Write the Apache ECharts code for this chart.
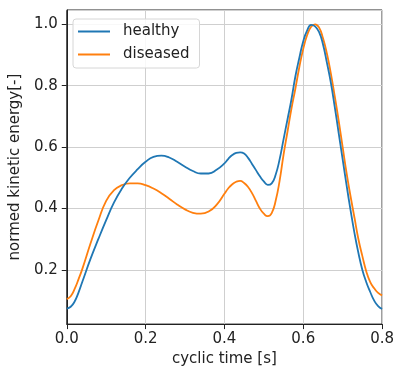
<!DOCTYPE html>
<html>
<head>
<meta charset="utf-8">
<script src="https://cdn.jsdelivr.net/npm/echarts@6/dist/echarts.min.js"></script>
<style>
  html, body { margin: 0; padding: 0; background: #fff; }
  #chart { width: 397px; height: 372px; }
</style>
</head>
<body>
<div id="chart"></div>
<script>
// cyclic time [s]
const time = [
  0.00, 0.01, 0.02, 0.03, 0.04, 0.06, 0.08, 0.10, 0.12, 0.14,
  0.16, 0.18, 0.20, 0.22, 0.24, 0.26, 0.28, 0.30, 0.32, 0.34,
  0.36, 0.38, 0.40, 0.41, 0.42, 0.43, 0.44, 0.45, 0.46, 0.47,
  0.48, 0.49, 0.50, 0.51, 0.52, 0.53, 0.54, 0.55, 0.56, 0.57,
  0.58, 0.59, 0.60, 0.61, 0.62, 0.63, 0.64, 0.65, 0.66, 0.67,
  0.68, 0.69, 0.70, 0.71, 0.72, 0.73, 0.74, 0.75, 0.76, 0.77,
  0.78, 0.79, 0.80
];

const healthy = [
  0.074, 0.080, 0.097, 0.127, 0.163, 0.235, 0.300, 0.362, 0.420, 0.465,
  0.500, 0.528, 0.552, 0.568, 0.572, 0.566, 0.552, 0.536, 0.522, 0.514,
  0.514, 0.526, 0.547, 0.562, 0.574, 0.581, 0.583, 0.579, 0.565, 0.545,
  0.525, 0.505, 0.488, 0.477, 0.482, 0.510, 0.560, 0.625, 0.690, 0.755,
  0.830, 0.890, 0.945, 0.980, 0.998, 0.993, 0.975, 0.935, 0.875, 0.810,
  0.730, 0.645, 0.560, 0.475, 0.395, 0.320, 0.255, 0.200, 0.160, 0.128,
  0.100, 0.082, 0.073
];

const diseased = [
  0.105, 0.114, 0.138, 0.170, 0.205, 0.285, 0.360, 0.425, 0.460, 0.476,
  0.482, 0.482, 0.476, 0.465, 0.450, 0.432, 0.413, 0.397, 0.386, 0.383,
  0.390, 0.412, 0.448, 0.466, 0.479, 0.487, 0.490, 0.483, 0.470, 0.450,
  0.425, 0.400, 0.383, 0.375, 0.385, 0.425, 0.490, 0.575, 0.650, 0.725,
  0.790, 0.860, 0.920, 0.965, 0.992, 1.000, 0.990, 0.955, 0.905, 0.840,
  0.765, 0.685, 0.600, 0.515, 0.440, 0.370, 0.300, 0.245, 0.195, 0.160,
  0.140, 0.125, 0.117
];

const fontFamily = 'DejaVu Sans';
const axisColor = '#222';
const gridColor = '#cfcfcf';

const chart = echarts.init(document.getElementById('chart'), null, { renderer: 'canvas' });

const option = {
  animation: false,
  textStyle: { fontFamily: fontFamily },
  grid: {
    left: 64,
    right: 12,
    top: 10,
    bottom: 45,
    show: true,
    borderColor: axisColor,
    borderWidth: 1,
    backgroundColor: 'transparent'
  },
  legend: {
    orient: 'vertical',
    left: 73,
    top: 19,
    icon: 'rect',
    itemWidth: 32,
    itemHeight: 2,
    itemGap: 8,
    padding: [5, 10, 6, 5],
    backgroundColor: 'rgba(255,255,255,0.85)',
    borderColor: '#d6d6d6',
    borderWidth: 1,
    borderRadius: 3,
    textStyle: { fontSize: 15, color: '#222', fontFamily: fontFamily, padding: [0, 0, 0, 8] },
    data: ['healthy', 'diseased']
  },
  xAxis: {
    type: 'value',
    min: 0,
    max: 0.8,
    interval: 0.2,
    name: 'cyclic time [s]',
    nameLocation: 'middle',
    nameGap: 27,
    nameTextStyle: { fontSize: 15, color: '#222', fontFamily: fontFamily },
    axisLine: { show: true, onZero: false, lineStyle: { color: axisColor, width: 1 } },
    axisTick: { show: true, inside: false, length: 5, lineStyle: { color: axisColor } },
    axisLabel: {
      fontSize: 15, color: '#222', margin: 8, fontFamily: fontFamily,
      formatter: v => v.toFixed(1)
    },
    splitLine: { show: true, lineStyle: { color: gridColor, width: 1 } }
  },
  yAxis: {
    type: 'value',
    min: 0.0235,
    max: 1.0465,
    splitNumber: 5,
    name: 'normed kinetic energy[-]',
    nameLocation: 'middle',
    nameGap: 40,
    nameTextStyle: { fontSize: 15, color: '#222', fontFamily: fontFamily },
    axisLine: { show: true, lineStyle: { color: axisColor, width: 1 } },
    axisTick: { show: true, inside: false, length: 5, lineStyle: { color: axisColor } },
    axisLabel: {
      fontSize: 15, color: '#222', margin: 9, fontFamily: fontFamily,
      showMinLabel: false, showMaxLabel: false,
      formatter: v => v.toFixed(1)
    },
    splitLine: { show: true, lineStyle: { color: gridColor, width: 1 } }
  },
  series: [
    {
      name: 'healthy',
      type: 'line',
      data: time.map((t, i) => [t, healthy[i]]),
      smooth: 0.5,
      symbol: 'none',
      lineStyle: { color: '#1f77b4', width: 1.8 },
      itemStyle: { color: '#1f77b4' },
      z: 3
    },
    {
      name: 'diseased',
      type: 'line',
      data: time.map((t, i) => [t, diseased[i]]),
      smooth: 0.5,
      symbol: 'none',
      lineStyle: { color: '#ff7f0e', width: 1.8 },
      itemStyle: { color: '#ff7f0e' },
      z: 2
    }
  ]
};

chart.setOption(option);
</script>
</body>
</html>
